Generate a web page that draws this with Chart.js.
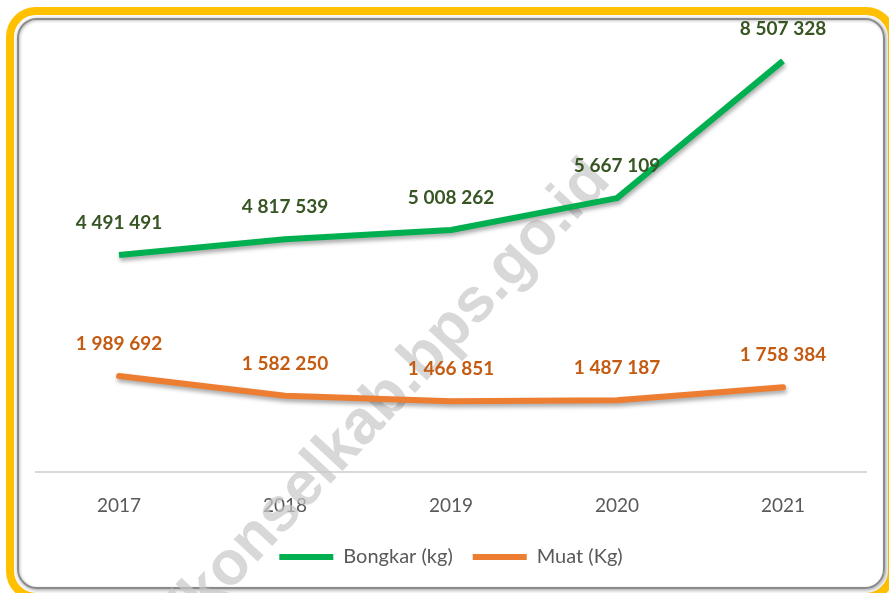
<!DOCTYPE html>
<html>
<head>
<meta charset="utf-8">
<script src="https://cdn.jsdelivr.net/npm/chart.js@4"></script>
<style>
  html, body { margin: 0; padding: 0; background: #fff; }
  body { width: 889px; height: 593px; position: relative; overflow: hidden; }
  .outer {
    position: absolute; left: 6px; top: 7px; width: 890px; height: 594px;
    box-sizing: border-box; border: 8px solid #FFC000; border-radius: 30px;
  }
  .inner {
    position: absolute; left: 17px; top: 18px; width: 868px; height: 571px;
    box-sizing: border-box; border: 2px solid #8a8a8a; border-radius: 20px;
    box-shadow: 1px 1px 4px rgba(0,0,0,0.4), inset 1px 1px 3px rgba(0,0,0,0.25);
  }
  #chart { position: absolute; left: 0; top: 0; }
</style>
</head>
<body>
<div class="outer"></div>
<div class="inner"></div>
<canvas id="chart" width="889" height="593"></canvas>
<script>
// data
const years = ["2017", "2018", "2019", "2020", "2021"];
const bongkar = [4491491, 4817539, 5008262, 5667109, 8507328];
const muat = [1989692, 1582250, 1466851, 1487187, 1758384];

const labelColors = ["#375623", "#C55A11"];

function fmt(n) {
  return String(n).replace(/\B(?=(\d{3})+(?!\d))/g, " ");
}

// soft shadow under the lines
const lineShadow = {
  id: "lineShadow",
  beforeDatasetDraw(chart) {
    const ctx = chart.ctx;
    ctx.save();
    ctx.shadowColor = "rgba(0,0,0,0.35)";
    ctx.shadowBlur = 4;
    ctx.shadowOffsetX = 1;
    ctx.shadowOffsetY = 3;
  },
  afterDatasetDraw(chart) {
    chart.ctx.restore();
  },
};

// value labels above every point
const valueLabels = {
  id: "valueLabels",
  afterDatasetsDraw(chart) {
    const ctx = chart.ctx;
    ctx.save();
    ctx.font = "bold 19px Lato";
    ctx.textAlign = "center";
    ctx.textBaseline = "middle";
    chart.data.datasets.forEach((ds, i) => {
      const meta = chart.getDatasetMeta(i);
      ctx.fillStyle = labelColors[i];
      meta.data.forEach((pt, j) => {
        ctx.fillText(fmt(ds.data[j]), pt.x, pt.y - 32);
      });
    });
    ctx.restore();
  },
};

// watermark
const watermark = {
  id: "watermark",
  beforeDatasetsDraw(chart) {
    const ctx = chart.ctx;
    ctx.save();
    ctx.translate(612, 182);
    ctx.rotate(-0.82);
    ctx.font = "bold 62px 'Liberation Sans'";
    ctx.textAlign = "right";
    ctx.textBaseline = "alphabetic";
    ctx.fillStyle = "rgba(200,200,200,0.7)";
    ctx.fillText("https://konselkab.bps.go.id", 0, 0);
    ctx.restore();
  },
};

const ctx = document.getElementById("chart").getContext("2d");
const chart = new Chart(ctx, {
  type: "line",
  data: {
    labels: years,
    datasets: [
      {
        label: "Bongkar (kg)",
        data: bongkar,
        borderColor: "#00B050",
        backgroundColor: "#00B050",
        borderWidth: 6,
        borderCapStyle: "butt",
        borderJoinStyle: "round",
        pointRadius: 0,
        tension: 0,
      },
      {
        label: "Muat (Kg)",
        data: muat,
        borderColor: "#ED7D31",
        backgroundColor: "#ED7D31",
        borderWidth: 6,
        borderCapStyle: "round",
        borderJoinStyle: "round",
        pointRadius: 0,
        tension: 0,
      },
    ],
  },
  options: {
    responsive: false,
    animation: false,
    layout: {
      padding: { left: 36, right: 23, top: 37, bottom: 16 },
    },
    plugins: {
      legend: {
        position: "bottom",
        labels: {
          usePointStyle: true,
          pointStyle: "line",
          pointStyleWidth: 54,
          boxHeight: 20,
          padding: 20,
          color: "#595959",
          font: { family: "Lato", size: 20 },
        },
      },
      tooltip: { enabled: false },
    },
    scales: {
      x: {
        offset: true,
        grid: { display: false, drawTicks: false },
        border: { display: true, color: "#D9D9D9", width: 2 },
        ticks: {
          padding: 22,
          color: "#595959",
          font: { family: "Lato", size: 19 },
        },
        afterFit(scale) {
          scale.height -= 12;
        },
      },
      y: {
        display: false,
        min: 0,
        max: 9000000,
      },
    },
  },
  plugins: [lineShadow, valueLabels, watermark],
});
</script>
</body>
</html>
